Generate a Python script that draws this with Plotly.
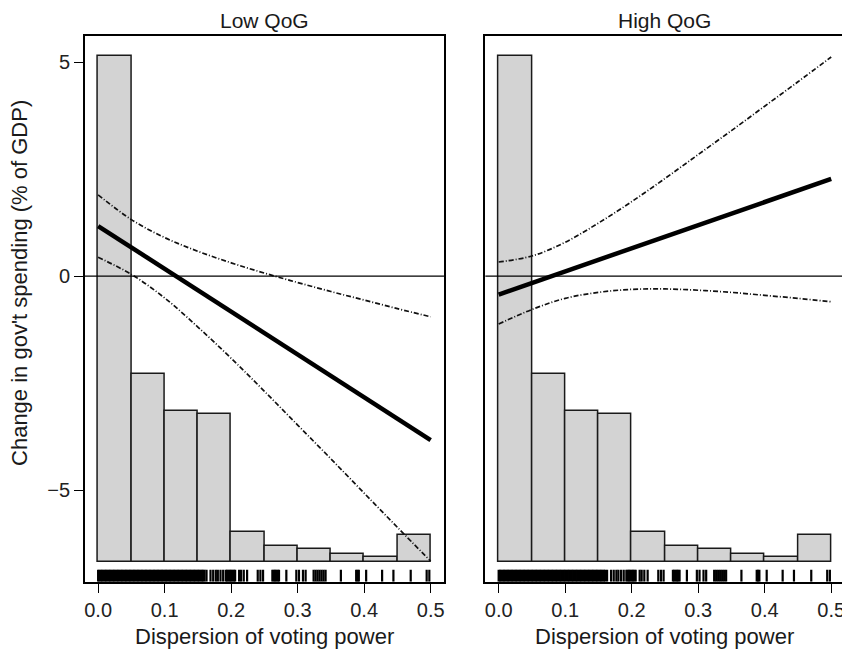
import plotly.graph_objects as go

# ---------------- data ----------------
panel_titles = ["Low QoG", "High QoG"]
x_label = "Dispersion of voting power"
y_label = "Change in gov't spending (% of GDP)"

# histogram of the moderator (drawn in y-units, sitting on a common base)
hist_left = [0.00, 0.05, 0.10, 0.15, 0.20, 0.25, 0.30, 0.35, 0.40, 0.45]
hist_top = [5.15, -2.28, -3.14, -3.21, -5.98, -6.30, -6.37, -6.49, -6.56, -6.05]
hist_base = -6.67

# marginal effect lines
x_grid = [0.00, 0.05, 0.10, 0.15, 0.20, 0.25, 0.30, 0.35, 0.40, 0.45, 0.50]
low_est = [1.17, 0.67, 0.17, -0.33, -0.83, -1.33, -1.83, -2.33, -2.83, -3.33, -3.83]
low_up = [1.90, 1.32, 0.90, 0.58, 0.31, 0.07, -0.15, -0.36, -0.56, -0.76, -0.95]
low_lo = [0.44, 0.04, -0.51, -1.19, -1.92, -2.69, -3.48, -4.27, -5.07, -5.87, -6.66]
high_est = [-0.43, -0.16, 0.11, 0.38, 0.65, 0.92, 1.19, 1.46, 1.73, 2.00, 2.27]
high_up = [0.33, 0.47, 0.79, 1.24, 1.74, 2.28, 2.84, 3.40, 3.97, 4.54, 5.12]
high_lo = [-1.12, -0.78, -0.52, -0.38, -0.31, -0.30, -0.33, -0.38, -0.45, -0.52, -0.60]

# rug of observed moderator values
rug_x = [
    0.000, 0.002, 0.004, 0.006, 0.008, 0.010, 0.012, 0.014, 0.016, 0.018,
    0.020, 0.022, 0.024, 0.026, 0.028, 0.030, 0.032, 0.034, 0.036, 0.038,
    0.040, 0.042, 0.044, 0.046, 0.048, 0.050, 0.052, 0.054, 0.056, 0.058,
    0.060, 0.062, 0.064, 0.066, 0.068, 0.070, 0.072, 0.074, 0.076, 0.078,
    0.080, 0.082, 0.084, 0.086, 0.088, 0.090, 0.092, 0.094, 0.096, 0.098,
    0.100, 0.102, 0.104, 0.106, 0.108, 0.110, 0.112, 0.114, 0.116, 0.118,
    0.120, 0.122, 0.124, 0.126, 0.128, 0.130, 0.132, 0.134, 0.136, 0.138,
    0.140, 0.142, 0.144, 0.146, 0.148, 0.150, 0.152, 0.154, 0.156, 0.158,
    0.160, 0.163, 0.169, 0.173, 0.177, 0.180, 0.184, 0.188, 0.192,
    0.194, 0.196, 0.198, 0.200, 0.202, 0.204, 0.206,
    0.212, 0.215, 0.219, 0.224, 0.240, 0.244, 0.248,
    0.262, 0.264, 0.266, 0.268, 0.270, 0.272,
    0.283, 0.298, 0.302, 0.308, 0.312,
    0.324, 0.327, 0.330, 0.333, 0.336, 0.339, 0.342,
    0.365, 0.388, 0.390, 0.392, 0.403, 0.427, 0.444, 0.470, 0.494, 0.498,
]

x_ticks = [0.0, 0.1, 0.2, 0.3, 0.4, 0.5]
x_ticktext = ["0.0", "0.1", "0.2", "0.3", "0.4", "0.5"]
y_ticks = [-5, 0, 5]
y_ticktext = ["\u22125", "0", "5"]

# ---------------- styling ----------------
X_RANGE = [-0.02, 0.52]
Y_RANGE = [-7.14, 5.61]
RUG_TOP = -6.86
FONT = "Liberation Sans, Arial, sans-serif"
BAR_FILL = "#d3d3d3"
CI_DASH = "5px,2px,1px,2px"

# page body has an 8px margin: figure is drawn 8px in from the top-left
OFF = 8
W, H = 850 - OFF, 653 - OFF

fig = go.Figure()

panels = [
    ("x", "y", low_est, low_up, low_lo),
    ("x2", "y2", high_est, high_up, high_lo),
]

bar_centers = [v + 0.025 for v in hist_left]
bar_heights = [t - hist_base for t in hist_top]

rx, ry = [], []
for v in rug_x:
    rx += [v, v, None]
    ry += [Y_RANGE[0], RUG_TOP, None]

for xa, ya, est, up, lo in panels:
    fig.add_trace(go.Bar(
        x=bar_centers, y=bar_heights, base=hist_base, width=0.05,
        marker=dict(color=BAR_FILL, line=dict(color="#1a1a1a", width=1.5)),
        xaxis=xa, yaxis=ya, showlegend=False, hoverinfo="skip",
    ))
    fig.add_trace(go.Scatter(
        x=rx, y=ry, mode="lines", line=dict(color="black", width=2.2),
        xaxis=xa, yaxis=ya, showlegend=False, hoverinfo="skip",
    ))
    for ser in (up, lo):
        fig.add_trace(go.Scatter(
            x=x_grid, y=ser, mode="lines", line_shape="spline",
            line=dict(color="#111111", width=1.7, dash=CI_DASH),
            xaxis=xa, yaxis=ya, showlegend=False,
        ))
    fig.add_trace(go.Scatter(
        x=x_grid, y=est, mode="lines",
        line=dict(color="black", width=4.5),
        xaxis=xa, yaxis=ya, showlegend=False,
    ))

# zero reference lines
for xref, yref in (("x domain", "y"), ("x2 domain", "y2")):
    fig.add_shape(type="line", xref=xref, yref=yref, x0=0, x1=1, y0=0, y1=0,
                  line=dict(color="black", width=1.3), layer="above")

# reference-picture pixel positions, shifted by the page offset
L1, R1 = 84.0 - OFF, 444.0 - OFF
L2, R2 = 485.5 - OFF, 845.5 - OFF
TOP, BOT = 36.0 - OFF, 581.7 - OFF


def xd(a, b):
    return [a / W, b / W]


def py(p):
    return 1 - (p - OFF) / H


ydom = [1 - BOT / H, 1 - TOP / H]

axis_common = dict(
    range=X_RANGE, showline=True, linecolor="black", linewidth=1.5,
    mirror=True, showgrid=False, zeroline=False,
    tickvals=x_ticks, ticktext=x_ticktext, ticks="outside", ticklen=10,
    tickwidth=1.3, tickcolor="black",
    tickfont=dict(family=FONT, size=20, color="#222222"),
)
yaxis_common = dict(
    range=Y_RANGE, showline=True, linecolor="black", linewidth=1.5,
    mirror=True, showgrid=False, zeroline=False, domain=ydom,
)

fig.update_layout(
    width=W, height=H,
    margin=dict(l=0, r=0, t=0, b=0),
    plot_bgcolor="white", paper_bgcolor="white",
    bargap=0,
    xaxis=dict(domain=xd(L1, R1), anchor="y", **axis_common),
    xaxis2=dict(domain=xd(L2, R2), anchor="y2", **axis_common),
    yaxis=dict(anchor="x", tickvals=y_ticks, ticktext=y_ticktext,
               ticks="outside", ticklen=9, tickwidth=1.3, tickcolor="black",
               tickfont=dict(family=FONT, size=20, color="#222222"),
               **yaxis_common),
    yaxis2=dict(anchor="x2", showticklabels=False, ticks="", **yaxis_common),
)

ann_font = dict(family=FONT, size=22, color="#1a1a1a")
title_font = dict(family=FONT, size=21, color="#1a1a1a")
for (a, b), title in zip(((L1, R1), (L2, R2)), panel_titles):
    cx = (a + b) / 2 / W
    fig.add_annotation(x=cx, y=py(8), xref="paper", yref="paper",
                       text=title, showarrow=False, font=title_font,
                       xanchor="center", yanchor="top", borderpad=0)
    fig.add_annotation(x=cx, y=py(636), xref="paper", yref="paper",
                       text=x_label, showarrow=False, font=ann_font,
                       xanchor="center", yanchor="middle")

fig.add_annotation(x=(18 - OFF) / W, y=py(283), xref="paper", yref="paper",
                   text=y_label, showarrow=False, font=ann_font, textangle=-90,
                   xanchor="center", yanchor="middle")

fig.write_html("out.html")
